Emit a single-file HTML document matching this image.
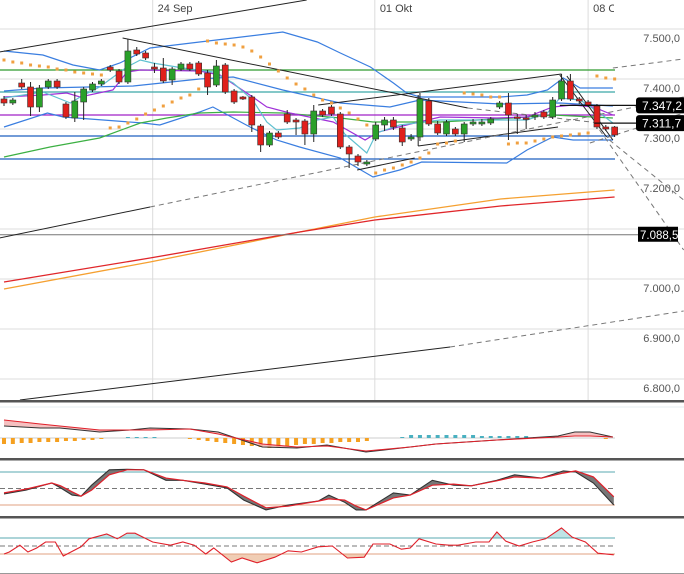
<!DOCTYPE html>
<html><head><meta charset="utf-8">
<style>
html,body{margin:0;padding:0;background:#fff;}
#wrap{position:relative;width:684px;height:574px;overflow:hidden;font-family:"Liberation Sans",sans-serif;}
svg{position:absolute;left:0;top:0;}
</style></head>
<body>
<div id="wrap">
<svg id="chart" width="684" height="574" viewBox="0 0 684 574" font-family="Liberation Sans, sans-serif"></svg>
</div>
<script>
// ---------- DATA ----------
const priceTicks = [7500, 7400, 7300, 7200, 7100, 7000, 6900, 6800];
const priceTickLabels = ["7.500,0","7.400,0","7.300,0","7.200,0","","7.000,0","6.900,0","6.800,0"];
const dateLabels = ["24 Sep", "01 Okt", "08 Okt"];
const dateIdx = [16.8, 41.9, 66];
const opens  = [7360,7352,7392,7384,7344,7384,7396,7350,7322,7354,7378,7390,7424,7416,7394,7458,7452,7424,7422,7398,7420,7430,7432,7412,7388,7428,7376,7364,7364,7306,7268,7292,7330,7318,7316,7290,7336,7344,7330,7264,7246,7230,7280,7308,7318,7302,7280,7284,7356,7310,7290,7300,7290,7310,7310,7312,7344,7352,7324,7322,7324,7334,7324,7360,7396,7360,7354,7346,7304,7304];
const highs  = [7366,7362,7400,7394,7388,7400,7400,7354,7374,7384,7394,7400,7428,7420,7480,7464,7456,7432,7442,7424,7434,7434,7436,7418,7438,7432,7380,7366,7368,7310,7296,7296,7338,7322,7320,7348,7340,7348,7334,7268,7250,7238,7314,7324,7324,7308,7290,7372,7362,7316,7318,7304,7314,7320,7320,7324,7356,7372,7330,7328,7334,7338,7364,7410,7410,7364,7358,7350,7308,7306];
const lows   = [7346,7348,7380,7326,7334,7380,7380,7320,7314,7318,7374,7386,7414,7390,7390,7446,7438,7412,7392,7388,7416,7416,7406,7368,7384,7370,7350,7358,7294,7254,7264,7280,7310,7288,7268,7274,7324,7326,7260,7222,7226,7226,7276,7296,7298,7266,7276,7276,7306,7288,7286,7286,7274,7306,7306,7308,7340,7278,7290,7300,7318,7320,7320,7356,7356,7350,7344,7300,7296,7284];
const closes = [7352,7358,7384,7344,7382,7396,7384,7324,7356,7380,7390,7396,7418,7394,7456,7450,7442,7420,7396,7420,7430,7420,7410,7384,7426,7374,7354,7360,7308,7268,7292,7284,7314,7314,7290,7336,7328,7330,7264,7250,7234,7234,7308,7318,7304,7274,7284,7360,7310,7292,7314,7290,7310,7314,7314,7320,7352,7328,7322,7320,7328,7324,7358,7396,7360,7356,7348,7304,7300,7288];
const sarValues = [7438,7434,7432,7428,7426,7424,7420,7418,7414,7412,7410,7408,7302,7304,7312,7320,7330,7338,7346,7354,7362,7368,7380,7476,7472,7470,7468,7464,7456,7444,7430,7416,7402,7390,7380,7368,7358,7352,7342,7332,7320,7308,7212,7218,7222,7228,7234,7242,7252,7270,7272,7276,7372,7370,7368,7364,7364,7270,7272,7272,7276,7280,7284,7286,7288,7290,7292,7406,7402,7400];
const bbUpperT = [0,4.4,7.8,10.8,13.1,16.5,22.1,25.9,31.5,35.4,38,41.4,44,45.5,47,56.1,59.1,61.4,63.2,65.1,68.8];
const bbUpperV = [7456,7448,7428,7418,7432,7462,7474,7482,7494,7474,7452,7424,7392,7372,7364,7364,7368,7378,7402,7382,7382];
const bbLowerT = [0,4.9,6.7,15.7,17.6,22.1,23.6,27.8,30.8,33.4,38,41.7,44.7,47.2,56.8,59.1,62,64.3,68.8];
const bbLowerV = [7304,7332,7324,7312,7308,7334,7344,7304,7278,7264,7242,7204,7218,7234,7232,7258,7284,7278,7278];
const bbMidT = [0,4.4,14.6,22.1,25.9,31.5,38,43.6,47,56.1,62.8,68.8];
const bbMidV = [7376,7382,7386,7400,7404,7378,7352,7344,7358,7350,7352,7346];
const maPurpleT = [0,4.4,7.1,8.6,12.3,13.9,15.4,22.1,24.4,28.1,29.7,32.3,37.2,40.8,42.3,46.4,49.3,55.7,59.1,62,64.3,66.6,68.8];
const maPurpleV = [7364,7368,7372,7364,7378,7414,7418,7416,7408,7364,7344,7332,7314,7278,7294,7312,7324,7322,7324,7344,7348,7344,7328];
const maCyanT = [0,4.4,7.5,8.6,10.8,13.9,15.4,16.8,20.2,23.6,25.9,28.1,29.7,30.8,33.4,35.4,37.2,38.5,41,42.1,44.7,49.3,59.1,61.4,62.8,65.1,67.3,68.8];
const maCyanV = [7362,7374,7352,7364,7384,7424,7438,7432,7422,7414,7392,7358,7314,7298,7302,7318,7324,7290,7252,7292,7308,7318,7318,7332,7362,7358,7332,7312];
const maGreenT = [0,5.2,10.8,15.4,18.4,22.1,25.9,31.5,38,41.7,49.3,57.5,62,68.8];
const maGreenV = [7244,7264,7282,7312,7322,7332,7334,7332,7322,7314,7314,7322,7328,7322];
const maLongT = [0,16.5,33.4,41.9,56.1,69];
const maRedV = [6994,7042,7094,7118,7146,7164];
const maOrangeV = [6980,7034,7094,7124,7160,7178];
const hLevelsV = [7418, 7374, 7328, 7286, 7240];
const hLevelColors = ["#2e9a2e","#3aa6a6","#a020c8","#1f5fbf","#1f5fbf"];
// trendlines: [t1,v1,t2,v2,dashed]
const trendT1 = [-0.5,13.4,35.5,39.9,46.8,46.8,62.8,63.6,68.8,-0.5,16.5,1.8,50.4,67.3,68.4,52.4,66.2];
const trendV1 = [7454,7482,7348,7218,7266,7266,7408,7406,7422,7082,7144,6758,6864,7298,7278,7342,7272];
const trendT2 = [34.2,52.4,63,46.4,62.6,46.8,68.1,68.8,76.8,16.5,76.8,50.4,76.8,76.8,76.8,67.3,76.8];
const trendV2 = [7558,7342,7410,7242,7304,7368,7284,7278,7440,7144,7364,6864,6936,7058,7158,7312,7332];
const trendDash = [0,0,0,0,0,0,0,0,1,0,1,0,1,1,1,1,1];
const priceMarks = [7347.2, 7311.7];
const priceMarkLabels = ["7.347,2", "7.311,7"];
const priceMarkStartT = [62.8, 66.7];
const lastLevel = 7088.5;
const lastLevelLabel = "7.088,5";
// MACD
const macdT = [0,4.1,6.3,10.8,14.2,16.5,21,24.2,29.2,33.1,36.5,40.9,45.9,48.8,55.7,62.6,64.5,66.2,68.8];
const macdLine = [6,5,5,3,4,5,4.5,3,-4.5,-5,-3.5,-7,-4.5,-3,-1,1,3,3,0.5];
const macdSignal = [9,7,6,4,4,4,4.5,2,-3,-4.5,-4,-6.5,-4.5,-3,-1,0.5,1,1,0.5];
const macdHist = [-3,-3,-2.5,-2.5,-2,-2,-2,-1.5,-1.5,-1,-1,-0.5,0,0,0.5,0.5,0.5,0.5,0,0,0,-0.5,-1,-1.5,-2,-2.5,-3,-3.5,-4,-4.5,-5,-4.5,-4,-3.5,-3,-3,-2.5,-2.5,-2,-2,-2,-1.5,0,0,0,0.5,1.5,1.5,1.5,1.5,1.5,1.5,1.5,1.5,1,1,1,1,1,1,0.5,0.5,0.5,0,0,0,0,0,-0.5,0];
// Stochastic
const stochT = [0,2.5,5.4,6.4,7.7,8.7,9.9,11.9,13.9,15.8,18.3,20.2,22.7,25.2,27.1,29.6,32.1,35.5,36.7,38.5,39.8,40.9,44,45.9,48.4,50.8,52.8,55.7,57.7,60.7,63.2,64.6,66.6,68.9];
const stochK = [40,47,60,51,38,36,56,84,85,84,65,65,58,51,29,11,20,27,38,25,11,11,42,38,65,56,55,65,75,69,82,80,60,20];
const stochD = [42,49,60,55,44,36,47,75,84,84,69,65,60,53,36,15,18,27,31,29,18,11,33,38,56,58,55,64,71,69,78,82,71,35];
// RSI
const rsiT = [0,0.6,1.8,2.7,3.7,4.7,5.8,6.7,8.7,9.6,11.6,12.8,13.9,14.8,16.8,18.8,20.2,21.5,22.8,23.7,25.7,26.9,28.6,30.6,32.1,33.6,35.5,37.1,38.8,40.7,41.7,43.6,44.9,45.9,46.9,48.8,50.3,51.3,53.3,54.8,55.7,56.7,58.2,59.7,61.2,63,64.2,65.7,67.1,68.9];
const rsiV = [30,35,52,35,45,60,60,25,48,68,80,68,82,82,60,52,60,52,30,45,10,20,8,22,38,35,48,50,20,22,55,55,42,45,68,55,52,52,60,60,85,62,50,60,68,95,72,60,32,28];

// ---------- SCALES ----------
const NS = "http://www.w3.org/2000/svg";
const svg = document.getElementById("chart");
function xT(t){ return 4 + t * 8.85; }
function yP(v){ return 279 - (v - 7000) * 0.5; }
function yMacd(v){ return 438 - v * 2; }
function yStoch(v){ return 516 - v * 0.55; }
function yRsi(v){ return 566 - v * 0.4; }
function mk(tag, attrs, parent){
  const e = document.createElementNS(NS, tag);
  for (const k in attrs) e.setAttribute(k, attrs[k]);
  (parent || svg).appendChild(e);
  return e;
}
function pts(ts, vs, yf){ return ts.map((t,i)=> xT(t).toFixed(1)+","+yf(vs[i]).toFixed(1)).join(" "); }

const defs = mk("defs", {});
const cp = mk("clipPath", {id:"mainClip"}, defs);
mk("rect", {x:0,y:0,width:684,height:400}, cp);
const cpa = mk("clipPath", {id:"rsiHi"}, defs);
mk("rect", {x:0,y:518,width:684,height:yRsi(70)-518}, cpa);
const cpb = mk("clipPath", {id:"rsiLo"}, defs);
mk("rect", {x:0,y:yRsi(30),width:684,height:574-yRsi(30)}, cpb);

// ---------- MAIN GRID ----------
const grid = mk("g", {});


priceTicks.forEach((v,i)=>{
  const l = mk("line", {x1:0,x2:684,y1:yP(v),y2:yP(v),stroke:"#dcdcdc","stroke-width":1}, grid);
  
  
  if (priceTickLabels[i]) {
    const tx = mk("text", {x:680,y:yP(v)+13,"text-anchor":"end","font-size":"11",fill:"#555"}, grid);
    tx.textContent = priceTickLabels[i];
    
    
  }
});
dateIdx.forEach((t,i)=>{
  const l = mk("line", {x1:xT(t),x2:xT(t),y1:0,y2:401,stroke:"#dcdcdc","stroke-width":1}, grid);
  
  
  const tx = mk("text", {x:xT(t)+5,y:12,"font-size":"11",fill:"#444"}, grid);
  tx.textContent = dateLabels[i];
  
  
});
const cover = mk("rect", {x:614,y:0,width:70,height:18,fill:"#fff"});



const main = mk("g", {"clip-path":"url(#mainClip)"});



[[maOrangeV,"#f5a030","ma-orange"],[maRedV,"#e0262a","ma-red"]].forEach(s=>{
  const p = mk("polyline", {points:pts(maLongT,s[0],yP),fill:"none",stroke:s[1],"stroke-width":1.3}, main);
  
  
});
const ll = mk("line", {x1:0,x2:640,y1:yP(lastLevel),y2:yP(lastLevel),stroke:"#777","stroke-width":1}, main);



hLevelsV.forEach((v,i)=>{
  const l = mk("line", {x1:0,x2:615,y1:yP(v),y2:yP(v),stroke:hLevelColors[i],"stroke-width":1.2}, main);
  
  
});

[[bbUpperT,bbUpperV,"#3a7ee0","bollinger-upper"],[bbLowerT,bbLowerV,"#3a7ee0","bollinger-lower"],[bbMidT,bbMidV,"#3a7ee0","bollinger-middle"],
 [maGreenT,maGreenV,"#3cb043","ma-green"],[maPurpleT,maPurpleV,"#a030d8","ma-purple"],[maCyanT,maCyanV,"#5fc0d0","ma-cyan"]].forEach(s=>{
  const p = mk("polyline", {points:pts(s[0],s[1],yP),fill:"none",stroke:s[2],"stroke-width":1.2}, main);
  
  
});

trendT1.forEach((t,i)=>{
  const l = mk("line", {x1:xT(t),y1:yP(trendV1[i]),x2:xT(trendT2[i]),y2:yP(trendV2[i]),stroke:trendDash[i]?"#777":"#222","stroke-width":1,"stroke-dasharray":trendDash[i]?"5,4":"none"}, main);
  
  
});

sarValues.forEach((v,i)=>{
  const r = mk("rect", {x:xT(i)-1.5,y:yP(v)-1.5,width:3,height:3,fill:"#f0a040"}, main);
  
  
});

opens.forEach((o,i)=>{
  const c = closes[i], x = xT(i);
  const g = mk("g", {}, main);
  
  
  mk("line", {x1:x,x2:x,y1:yP(highs[i]),y2:yP(lows[i]),stroke:"#222","stroke-width":1}, g);
  const top = yP(Math.max(o,c)), bot = yP(Math.min(o,c));
  mk("rect", {x:x-3,y:top,width:6,height:Math.max(1.5,bot-top),fill:c>=o?"#2aa02a":"#e0201c",stroke:"#333","stroke-width":0.6}, g);
});

priceMarks.forEach((v,i)=>{
  const l = mk("line", {x1:xT(priceMarkStartT[i]),x2:636,y1:yP(v),y2:yP(v),stroke:"#111","stroke-width":1.2});
  
  
  const r = mk("rect", {x:636,y:yP(v)-8,width:50,height:16,rx:3,fill:"#000"});
  
  
  const tx = mk("text", {x:642,y:yP(v)+4.5,"font-size":"12",fill:"#fff"});
  tx.textContent = priceMarkLabels[i];
  
  
});
const lb = mk("rect", {x:638,y:yP(lastLevel)-8,width:40,height:15,fill:"#000"});


const lt = mk("text", {x:640,y:yP(lastLevel)+4,"font-size":"11.5",fill:"#fff"});
lt.textContent = lastLevelLabel;



// ---------- PANEL BORDERS ----------
[401,459,517].forEach(y=>{
  const l = mk("rect", {x:0,y:y-1,width:684,height:2.5,fill:"#555"});
  
  
});
const bl = mk("line", {x1:0,x2:684,y1:573.5,y2:573.5,stroke:"#999"});



// ---------- MACD ----------
const macdG = mk("g", {});


mk("line", {x1:0,x2:684,y1:407,y2:407,stroke:"#e4eef2"}, macdG);
mk("line", {x1:0,x2:615,y1:yMacd(0),y2:yMacd(0),stroke:"#ccc"}, macdG);
macdHist.forEach((h,i)=>{
  if (!h) return;
  const y0 = yMacd(0), y1 = yMacd(h);
  const r = mk("rect", {x:xT(i)-2,y:Math.min(y0,y1),width:4,height:Math.abs(y1-y0),fill:h<0?"#f5a020":"#4ab0c0"}, macdG);
  
  
});
const mf = mk("polygon", {points:pts(macdT,macdLine,yMacd)+" "+pts(macdT.slice().reverse(),macdSignal.slice().reverse(),yMacd),fill:"#f3b0b0",opacity:0.8}, macdG);


const ml = mk("polyline", {points:pts(macdT,macdLine,yMacd),fill:"none",stroke:"#333","stroke-width":1.1}, macdG);


const ms = mk("polyline", {points:pts(macdT,macdSignal,yMacd),fill:"none",stroke:"#e0202a","stroke-width":1.1}, macdG);



// ---------- STOCHASTIC ----------
const stG = mk("g", {});


mk("line", {x1:0,x2:615,y1:yStoch(80),y2:yStoch(80),stroke:"#5aaab0"}, stG);
mk("line", {x1:0,x2:615,y1:yStoch(20),y2:yStoch(20),stroke:"#e0a080"}, stG);
mk("line", {x1:0,x2:615,y1:yStoch(50),y2:yStoch(50),stroke:"#777","stroke-dasharray":"5,3"}, stG);
const sf = mk("polygon", {points:pts(stochT,stochK,yStoch)+" "+pts(stochT.slice().reverse(),stochD.slice().reverse(),yStoch),fill:"#777"}, stG);


const sk = mk("polyline", {points:pts(stochT,stochK,yStoch),fill:"none",stroke:"#333","stroke-width":1.1}, stG);


const sd = mk("polyline", {points:pts(stochT,stochD,yStoch),fill:"none",stroke:"#e0202a","stroke-width":1.2}, stG);



// ---------- RSI ----------
const rG = mk("g", {});


const rl = pts(rsiT,rsiV,yRsi);
const x0 = xT(rsiT[0]), x1 = xT(rsiT[rsiT.length-1]);
const fh = mk("polygon", {points:x0+","+yRsi(70)+" "+rl+" "+x1+","+yRsi(70),fill:"#bfe4e6","clip-path":"url(#rsiHi)"}, rG);


const fl = mk("polygon", {points:x0+","+yRsi(30)+" "+rl+" "+x1+","+yRsi(30),fill:"#f0cdb4","clip-path":"url(#rsiLo)"}, rG);


mk("line", {x1:0,x2:615,y1:yRsi(70),y2:yRsi(70),stroke:"#5aaab0"}, rG);
mk("line", {x1:0,x2:615,y1:yRsi(30),y2:yRsi(30),stroke:"#e0a080"}, rG);
mk("line", {x1:0,x2:615,y1:yRsi(50),y2:yRsi(50),stroke:"#777","stroke-dasharray":"5,3"}, rG);
const rp = mk("polyline", {points:rl,fill:"none",stroke:"#e0202a","stroke-width":1.1}, rG);


</script>
</body></html>
